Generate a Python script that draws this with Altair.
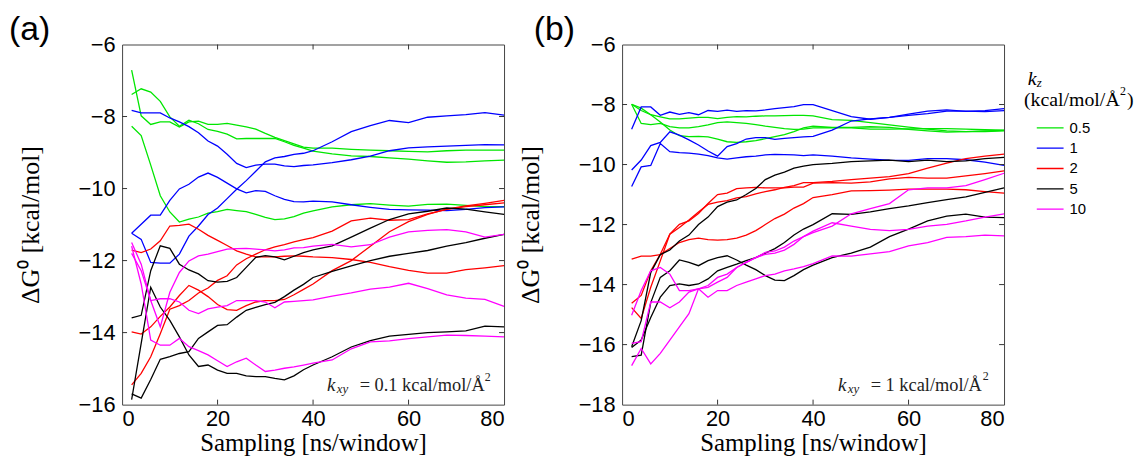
import altair as alt
import pandas as pd

# ---------------- data ----------------
X = [2, 4, 6, 8, 10, 12, 14, 16, 18, 20, 22, 24, 26, 28, 30, 32, 34, 36, 38, 40,
     44, 48, 52, 56, 60, 64, 68, 72, 76, 80]

KZ = ['0.5', '1', '2', '5', '10']
COLORS = ['#00e600', '#0000ff', '#ff0000', '#000000', '#ff00ff']
XTICKS = [0, 20, 40, 60, 80]
YTICKS_A = [-16, -14, -12, -10, -8, -6]
YTICKS_B = [-18, -16, -14, -12, -10, -8, -6]

# panel (a): k_xy = 0.1
A_G1 = [-6.71, -7.98, -8.22, -8.15, -8.15, -8.29, -8.15, -8.13, -8.22, -8.22, -8.19, -8.24, -8.29, -8.35, -8.47, -8.58, -8.67, -8.76, -8.85, -8.88, -8.88, -8.91, -8.93, -8.95, -8.97, -8.98, -8.95, -8.93, -8.93, -8.93]
A_G2 = [-7.39, -7.23, -7.32, -7.58, -8.01, -8.27, -8.1, -8.2, -8.36, -8.41, -8.49, -8.62, -8.61, -8.61, -8.61, -8.61, -8.7, -8.8, -8.88, -8.96, -9.04, -9.09, -9.11, -9.15, -9.18, -9.23, -9.27, -9.26, -9.23, -9.21]
A_G3 = [-8.27, -8.53, -9.35, -10.2, -10.65, -10.93, -10.85, -10.79, -10.68, -10.64, -10.58, -10.61, -10.64, -10.72, -10.8, -10.86, -10.84, -10.78, -10.68, -10.62, -10.51, -10.45, -10.42, -10.46, -10.49, -10.44, -10.43, -10.47, -10.5, -10.5]
A_B1 = [-7.83, -7.9, -7.9, -7.9, -8.04, -8.15, -8.28, -8.45, -8.68, -8.82, -9.05, -9.3, -9.42, -9.35, -9.32, -9.32, -9.37, -9.39, -9.36, -9.34, -9.28, -9.2, -9.1, -8.95, -8.87, -8.84, -8.82, -8.8, -8.78, -8.79]
A_B2 = [-11.24, -10.99, -10.74, -10.74, -10.33, -10.01, -9.88, -9.68, -9.57, -9.69, -9.85, -10.01, -10.12, -10.06, -10.08, -10.2, -10.3, -10.36, -10.37, -10.35, -10.37, -10.45, -10.52, -10.58, -10.59, -10.6, -10.61, -10.58, -10.53, -10.51]
A_B3 = [-11.24, -11.41, -12.05, -12.07, -12.07, -11.82, -11.32, -11.04, -10.72, -10.54, -10.28, -10.02, -9.78, -9.52, -9.26, -9.15, -9.11, -9.05, -9.02, -8.95, -8.7, -8.42, -8.25, -8.11, -8.17, -8.02, -7.98, -7.95, -7.89, -7.96]
A_R1 = [-11.71, -11.78, -11.68, -11.45, -11.04, -11.02, -10.99, -11.13, -11.3, -11.44, -11.58, -11.73, -11.82, -11.9, -11.9, -11.9, -11.88, -11.87, -11.88, -11.9, -11.92, -11.97, -12.05, -12.17, -12.27, -12.35, -12.35, -12.25, -12.2, -12.14]
A_R2 = [-13.98, -14.04, -13.84, -13.55, -13.29, -12.97, -12.69, -12.82, -13.0, -13.22, -13.36, -13.38, -13.25, -13.15, -13.11, -13.11, -13.08, -12.95, -12.8, -12.65, -12.28, -12.0, -11.6, -11.2, -10.92, -10.72, -10.57, -10.48, -10.41, -10.33]
A_R3 = [-15.45, -15.13, -14.67, -14.03, -13.35, -13.25, -13.11, -12.9, -12.76, -12.55, -12.42, -12.12, -11.95, -11.82, -11.7, -11.62, -11.56, -11.48, -11.42, -11.36, -11.18, -10.9, -10.82, -10.88, -10.86, -10.7, -10.58, -10.5, -10.45, -10.4]
A_K1 = [-13.59, -13.52, -12.28, -11.59, -11.66, -12.1, -12.26, -12.37, -12.56, -12.6, -12.58, -12.47, -12.19, -11.91, -11.86, -11.9, -11.98, -11.88, -11.78, -11.7, -11.59, -11.35, -11.1, -10.86, -10.7, -10.63, -10.54, -10.57, -10.65, -10.72]
A_K2 = [-15.86, -14.3, -12.74, -13.29, -13.66, -14.12, -14.62, -14.94, -14.9, -15.04, -15.13, -15.13, -15.2, -15.22, -15.22, -15.27, -15.31, -15.2, -15.03, -14.9, -14.67, -14.4, -14.22, -14.1, -14.05, -14.0, -13.98, -13.95, -13.82, -13.84]
A_K3 = [-15.7, -15.82, -15.3, -14.74, -14.67, -14.58, -14.53, -14.16, -13.98, -13.8, -13.78, -13.57, -13.38, -13.3, -13.22, -13.16, -13.0, -12.82, -12.66, -12.47, -12.3, -12.15, -12.0, -11.88, -11.8, -11.72, -11.6, -11.5, -11.38, -11.27]
A_M1 = [-11.5, -12.1, -13.11, -13.84, -12.88, -12.33, -12.01, -11.87, -11.82, -11.75, -11.68, -11.67, -11.66, -11.68, -11.7, -11.73, -11.7, -11.65, -11.64, -11.6, -11.55, -11.62, -11.56, -11.35, -11.2, -11.16, -11.14, -11.2, -11.35, -11.27]
A_M2 = [-11.8, -12.28, -13.11, -13.06, -13.06, -13.15, -13.38, -13.47, -13.34, -13.29, -13.25, -13.11, -13.11, -13.11, -13.15, -13.31, -13.15, -13.13, -13.11, -13.09, -12.99, -12.9, -12.79, -12.74, -12.63, -12.78, -12.95, -13.04, -13.08, -13.27]
A_M3 = [-11.6, -12.65, -14.21, -14.35, -14.35, -14.16, -14.39, -14.5, -14.62, -14.78, -14.94, -14.81, -14.71, -14.9, -15.08, -15.04, -14.99, -14.95, -14.9, -14.85, -14.76, -14.45, -14.26, -14.23, -14.17, -14.12, -14.07, -14.08, -14.1, -14.12]

# panel (b): k_xy = 1
B_G1 = [-7.99, -8.12, -8.34, -8.41, -8.48, -8.48, -8.45, -8.43, -8.43, -8.47, -8.43, -8.4, -8.41, -8.39, -8.38, -8.38, -8.37, -8.36, -8.36, -8.38, -8.5, -8.53, -8.6, -8.68, -8.75, -8.82, -8.88, -8.9, -8.9, -8.88]
B_G2 = [-7.99, -8.63, -8.67, -8.63, -8.74, -8.78, -8.78, -8.74, -8.68, -8.6, -8.58, -8.6, -8.63, -8.67, -8.72, -8.76, -8.8, -8.83, -8.82, -8.78, -8.77, -8.78, -8.82, -8.82, -8.81, -8.8, -8.8, -8.82, -8.84, -8.85]
B_G3 = [-7.99, -8.2, -8.34, -8.58, -8.85, -9.04, -9.07, -9.06, -9.08, -9.15, -9.24, -9.26, -9.24, -9.2, -9.14, -9.07, -9.0, -8.9, -8.78, -8.72, -8.76, -8.76, -8.74, -8.76, -8.83, -8.88, -8.92, -8.9, -8.88, -8.86]
B_B1 = [-8.82, -8.08, -8.08, -8.36, -8.25, -8.33, -8.27, -8.34, -8.2, -8.23, -8.19, -8.23, -8.2, -8.21, -8.18, -8.14, -8.1, -8.07, -8.0, -8.0, -8.2, -8.4, -8.49, -8.43, -8.32, -8.22, -8.18, -8.23, -8.2, -8.14]
B_B2 = [-10.18, -9.85, -9.37, -9.26, -8.91, -9.02, -9.18, -9.35, -9.55, -9.72, -9.4, -9.3, -9.15, -9.1, -9.1, -9.16, -9.13, -9.1, -9.08, -9.06, -8.85, -8.55, -8.48, -8.43, -8.36, -8.3, -8.22, -8.22, -8.24, -8.2]
B_B3 = [-10.73, -10.08, -10.03, -9.3, -9.57, -9.6, -9.62, -9.65, -9.7, -9.78, -9.82, -9.78, -9.74, -9.72, -9.68, -9.66, -9.67, -9.68, -9.7, -9.68, -9.72, -9.78, -9.82, -9.85, -9.86, -9.8, -9.8, -9.84, -9.92, -10.03]
B_R1 = [-14.62, -14.36, -13.54, -12.99, -12.32, -12.1, -11.85, -11.58, -11.33, -11.25, -11.2, -11.11, -11.07, -10.98, -10.9, -10.84, -10.76, -10.7, -10.6, -10.6, -10.56, -10.5, -10.45, -10.4, -10.3, -10.12, -9.95, -9.8, -9.72, -9.65]
B_R2 = [-14.77, -15.13, -14.09, -13.21, -12.32, -11.99, -11.88, -11.63, -11.3, -11.0, -10.95, -10.8, -10.78, -10.76, -10.78, -10.78, -10.78, -10.75, -10.75, -10.62, -10.6, -10.62, -10.58, -10.48, -10.43, -10.45, -10.45, -10.38, -10.3, -10.21]
B_R3 = [-13.15, -13.05, -13.05, -13.0, -12.8, -12.6, -12.5, -12.45, -12.5, -12.52, -12.5, -12.45, -12.35, -12.2, -12.0, -11.8, -11.65, -11.45, -11.3, -11.1, -11.0, -10.88, -10.87, -10.85, -10.82, -10.82, -10.82, -10.84, -10.9, -10.95]
B_K1 = [-16.07, -15.2, -13.6, -13.0, -12.85, -12.55, -12.35, -12.0, -11.75, -11.4, -11.25, -11.18, -11.0, -10.8, -10.5, -10.35, -10.25, -10.12, -10.05, -10.0, -9.96, -9.9, -9.88, -9.85, -9.9, -9.85, -9.9, -9.88, -9.8, -9.76]
B_K2 = [-16.4, -16.35, -14.6, -13.76, -13.54, -13.18, -13.26, -13.37, -13.2, -13.1, -13.04, -13.18, -13.35, -13.5, -13.7, -13.85, -13.87, -13.7, -13.5, -13.35, -13.1, -12.95, -12.75, -12.4, -12.15, -11.88, -11.72, -11.65, -11.75, -11.77]
B_K3 = [-16.1, -15.85, -15.1, -14.42, -14.03, -13.98, -14.03, -13.98, -13.81, -13.54, -13.43, -13.32, -13.2, -13.1, -12.95, -12.8, -12.6, -12.35, -12.15, -12.0, -11.64, -11.66, -11.58, -11.47, -11.38, -11.27, -11.17, -11.08, -10.93, -10.78]
B_M1 = [-15.02, -14.2, -13.54, -13.43, -13.65, -14.2, -14.2, -14.14, -14.03, -13.76, -13.65, -13.43, -13.26, -13.1, -12.93, -12.88, -12.75, -12.55, -12.4, -12.27, -12.05, -11.64, -11.47, -11.3, -10.84, -10.78, -10.78, -10.7, -10.5, -10.29]
B_M2 = [-15.96, -15.9, -14.58, -14.58, -14.77, -14.58, -14.25, -14.14, -14.42, -14.2, -14.2, -14.03, -13.92, -13.81, -13.7, -13.65, -13.54, -13.48, -13.4, -13.3, -13.04, -13.05, -12.98, -12.9, -12.71, -12.6, -12.43, -12.4, -12.35, -12.38]
B_M3 = [-16.7, -16.13, -16.64, -16.29, -15.85, -15.41, -14.97, -14.14, -14.09, -13.92, -13.76, -13.43, -13.26, -13.1, -12.99, -12.95, -12.85, -12.66, -12.4, -12.22, -11.94, -12.05, -12.16, -12.2, -12.16, -12.05, -11.99, -11.88, -11.75, -11.64]

SERIES_A = [('0.5', A_G1), ('0.5', A_G2), ('0.5', A_G3),
            ('1', A_B1), ('1', A_B2), ('1', A_B3),
            ('2', A_R1), ('2', A_R2), ('2', A_R3),
            ('5', A_K1), ('5', A_K2), ('5', A_K3),
            ('10', A_M1), ('10', A_M2), ('10', A_M3)]
SERIES_B = [('0.5', B_G1), ('0.5', B_G2), ('0.5', B_G3),
            ('1', B_B1), ('1', B_B2), ('1', B_B3),
            ('2', B_R1), ('2', B_R2), ('2', B_R3),
            ('5', B_K1), ('5', B_K2), ('5', B_K3),
            ('10', B_M1), ('10', B_M2), ('10', B_M3)]

# annotation anchors (data coordinates) and texts
ANN_A = {'x': 42.9, 'y': -15.47, 'main': '= 0.1 kcal/mol/Å', 'sup_dx': 159}
ANN_B = {'x': 45.2, 'y': -17.36, 'main': '= 1 kcal/mol/Å', 'sup_dx': 146}

W, H = 385, 363
SANS = 'Liberation Sans'
SERIF = 'Liberation Serif'


def long_df(series):
    rows = []
    for i, (kz, ys) in enumerate(series):
        for xv, yv in zip(X, ys):
            rows.append({'x': xv, 'y': yv, 'kz': kz, 'run': i})
    return pd.DataFrame(rows)


def panel(series, ydom, yticks, ann, label, label_x, legend):
    xenc = alt.X('x:Q', scale=alt.Scale(domain=[0, 80], nice=False, zero=False),
                 axis=alt.Axis(values=XTICKS, title='Sampling [ns/window]', ticks=False,
                               domain=False, grid=False, labelPadding=4, titlePadding=1,
                               titleFontSize=25))
    yenc = alt.Y('y:Q', scale=alt.Scale(domain=ydom, nice=False, zero=False),
                 axis=alt.Axis(values=yticks, title='ΔG⁰ [kcal/mol]', ticks=False,
                               domain=False, grid=False, labelPadding=7, titlePadding=35,
                               titleFontSize=26))
    color = alt.Color('kz:N', scale=alt.Scale(domain=KZ, range=COLORS),
                      legend=legend if legend is not None else None)

    lines = alt.Chart(long_df(series)).mark_line(strokeWidth=1.3).encode(
        x=xenc, y=yenc, color=color, detail='run:N')

    xt = pd.DataFrame({'x': XTICKS[1:-1]})
    yt = pd.DataFrame({'y': yticks[1:-1]})
    tick_b = alt.Chart(xt).mark_rule(color='#333').encode(x=xenc, y=alt.value(H), y2=alt.value(H - 5))
    tick_t = alt.Chart(xt).mark_rule(color='#333').encode(x=xenc, y=alt.value(0), y2=alt.value(5))
    tick_l = alt.Chart(yt).mark_rule(color='#333').encode(y=yenc, x=alt.value(0), x2=alt.value(5))
    tick_r = alt.Chart(yt).mark_rule(color='#333').encode(y=yenc, x=alt.value(W), x2=alt.value(W - 5))

    adf = pd.DataFrame({'x': [ann['x']], 'y': [ann['y']]})
    t_k = alt.Chart(adf).mark_text(text='k', font=SERIF, fontStyle='italic', fontSize=19,
                                   align='left', color='#222').encode(x=xenc, y=yenc)
    t_xy = alt.Chart(adf).mark_text(text='xy', font=SERIF, fontStyle='italic', fontSize=13,
                                    align='left', dx=10, dy=4, color='#222').encode(x=xenc, y=yenc)
    t_main = alt.Chart(adf).mark_text(text=ann['main'], font=SERIF, fontSize=18.5,
                                      align='left', dx=33, color='#222').encode(x=xenc, y=yenc)
    t_sup = alt.Chart(adf).mark_text(text='2', font=SERIF, fontSize=12,
                                     align='left', dx=ann['sup_dx'], dy=-9, color='#222').encode(x=xenc, y=yenc)

    one = pd.DataFrame({'a': [0]})
    t_label = alt.Chart(one).mark_text(text=label, font=SANS, fontSize=34, align='left',
                                       baseline='top').encode(x=alt.value(label_x), y=alt.value(-32))

    layers = [lines, tick_b, tick_t, tick_l, tick_r, t_k, t_xy, t_main, t_sup, t_label]

    if legend is not None:
        lk = alt.Chart(one).mark_text(text='k', font=SERIF, fontStyle='italic', fontSize=20,
                                      align='left').encode(x=alt.value(409), y=alt.value(35))
        lz = alt.Chart(one).mark_text(text='z', font=SERIF, fontStyle='italic', fontSize=13,
                                      align='left').encode(x=alt.value(418), y=alt.value(39))
        lu = alt.Chart(one).mark_text(text='(kcal/mol/Å', font=SERIF, fontSize=20,
                                      align='left').encode(x=alt.value(405), y=alt.value(56))
        l2 = alt.Chart(one).mark_text(text='2', font=SERIF, fontSize=12,
                                      align='left').encode(x=alt.value(502), y=alt.value(47))
        lp = alt.Chart(one).mark_text(text=')', font=SERIF, fontSize=20,
                                      align='left').encode(x=alt.value(509), y=alt.value(56))
        layers += [lk, lz, lu, l2, lp]

    return alt.layer(*layers).properties(width=W, height=H)


legend_b = alt.Legend(orient='none', legendX=417, legendY=74, title=None,
                      symbolType='stroke', symbolSize=729, symbolStrokeWidth=1.3,
                      labelFont=SANS, labelFontSize=15, labelOffset=5, rowPadding=0.5,
                      clipHeight=20, padding=0)

pa = panel(SERIES_A, [-16, -6], YTICKS_A, ANN_A, '(a)', -114, None)
pb = panel(SERIES_B, [-18, -6], YTICKS_B, ANN_B, '(b)', -89, legend_b)

chart = alt.hconcat(pa, pb, spacing=119, bounds='flush').resolve_scale(
    color='independent').resolve_legend(color='independent').properties(
    padding={'left': 0, 'top': 2, 'right': 0, 'bottom': 0}
).configure_view(stroke='#444', strokeWidth=1).configure_axis(
    labelFont=SANS, labelFontSize=22, labelColor='black',
    titleFont=SERIF, titleFontSize=24, titleFontWeight='normal', titleColor='black'
)

chart.save('out.html', embed_options={'renderer': 'svg', 'actions': False})
